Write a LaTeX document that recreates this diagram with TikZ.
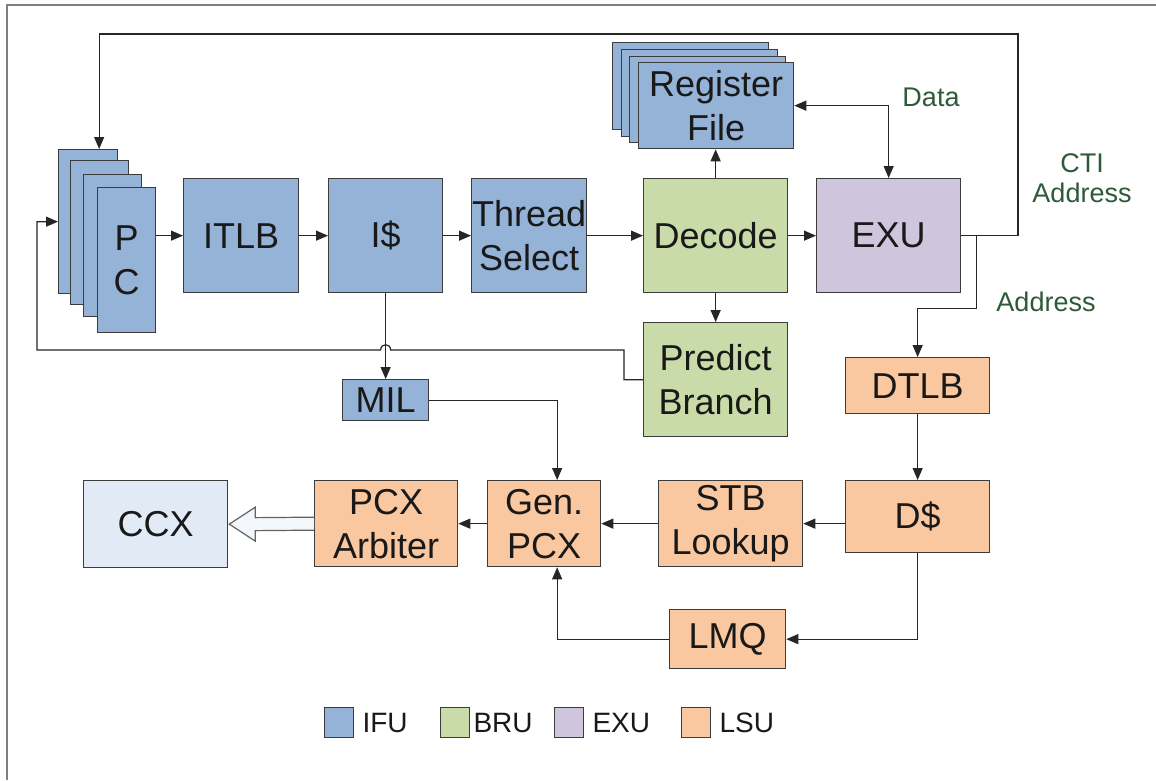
\documentclass[tikz,border=0pt]{standalone}
\usepackage{fontspec}
\setmainfont{Liberation Sans}
\usetikzlibrary{arrows.meta,calc}
\definecolor{ifu}{HTML}{95B3D7}
\definecolor{bru}{HTML}{C9DBA8}
\definecolor{exu}{HTML}{CFC6DD}
\definecolor{lsu}{HTML}{F9C8A0}
\definecolor{ccx}{HTML}{E2EAF6}
\definecolor{edge}{HTML}{3C3C3C}
\definecolor{lbl}{HTML}{2E5A3A}
\begin{document}
\begin{tikzpicture}[x=1pt,y=-1pt,
  blk/.style={draw=edge, line width=1.3pt, inner sep=0pt, align=center,
    anchor=north west, font=\fontsize{36}{44}\selectfont, text=black!90},
  ifub/.style={blk, fill=ifu},
  brub/.style={blk, fill=bru},
  exub/.style={blk, fill=exu},
  lsub/.style={blk, fill=lsu},
  sz/.style 2 args={minimum width=#1pt, minimum height=#2pt},
  conn/.style={draw=black!85, line width=1.2pt, -{Triangle[length=12pt,width=10pt]}},
  conn2/.style={conn, {Triangle[length=12pt,width=10pt]}-{Triangle[length=12pt,width=10pt]}},
  sig/.style={text=lbl, font=\fontsize{27}{30}\selectfont, align=center},
  key/.style={draw=edge, line width=1.3pt, minimum width=29pt, minimum height=30pt, inner sep=0pt, anchor=north west},
  keytxt/.style={font=\fontsize{28}{30}\selectfont, anchor=west, inner sep=0pt, text=black!90}
]
\useasboundingbox (0,0) rectangle (1156,780);
\fill[white] (0,0) rectangle (1156,780);
% frame
\draw[gray, line width=2pt] (7,780) -- (7,5) -- (1156,5);

% program counters (one per thread)
\node[ifub, sz={59}{144}] (pc1) at (58,149) {};
\node[ifub, sz={58}{144}] (pc2) at (70,160) {};
\node[ifub, sz={58}{142}] (pc3) at (83,174) {};
\node[ifub, sz={58}{145}] (pc4) at (97,187) {P\\C};

% fetch / decode row
\node[ifub, sz={115}{114}] (itlb) at (183,178) {ITLB};
\node[ifub, sz={114}{114}] (imem) at (328,178) {I\$};
\node[ifub, sz={115}{114}] (tsel) at (471,178) {Thread\\Select};
\node[brub, sz={144}{114}] (dec) at (643,178) {Decode};
\node[exub, sz={144}{114}] (exu) at (816,178) {EXU};

% register files (one per thread)
\node[ifub, sz={156}{87}] (rf1) at (612,42) {};
\node[ifub, sz={156}{87}] (rf2) at (621,49) {};
\node[ifub, sz={156}{86}] (rf3) at (629,56) {};
\node[ifub, sz={155}{86}] (rf4) at (638,62) {Register\\File};

% branch prediction and miss logic
\node[brub, sz={144}{114}] (pb) at (643,322) {Predict\\Branch};
\node[ifub, sz={86}{41}] (mil) at (342,379) {MIL};

% load/store path
\node[lsub, sz={144}{56}] (dtlb) at (845,357) {DTLB};
\node[lsub, sz={144}{72}] (dc) at (845,480) {D\$};
\node[lsub, sz={144}{86}] (stb) at (658,480) {STB\\Lookup};
\node[lsub, sz={113}{86}] (gen) at (487,480) {Gen.\\PCX};
\node[lsub, sz={143}{86}] (arb) at (314,480) {PCX\\Arbiter};
\node[lsub, sz={116}{59}] (lmq) at (669,609) {LMQ};
\node[blk, fill=ccx, sz={144}{87}] (ccx) at (83,480) {CCX};

% fetch pipeline
\draw[conn] (itlb.west -| pc4.east) -- (itlb.west);
\draw[conn] (itlb.east) -- (imem.west);
\draw[conn] (imem.east) -- (tsel.west);
\draw[conn] (tsel.east) -- (dec.west);
\draw[conn] (dec.east) -- (exu.west);
\draw[conn] (dec.north) -- (dec.north |- rf4.south);
\draw[conn] (dec.south) -- (pb.north);
\draw[conn2] (rf4.east) -| (exu.north);

% control transfer back to the PCs
\coordinate (ctop) at (1018,34);
\draw[conn] (exu.east) -| (ctop) -| ($(pc1.north)+(11,0)$);

% data address to the DTLB
\path (exu.east) ++(15,0) coordinate (abr);
\draw[conn] (abr) -- ++(0,73) -| (dtlb.north);

% predicted branch target, hopping over the I$ miss line
\coordinate (ylev) at (0,350);
\path (pb.west) ++(-19,0) coordinate (pbk);
\path (imem.south |- ylev) coordinate (hop);
\draw[conn] (pb.west) -- (pbk) -- (pbk |- ylev) -- ($(hop)+(5,0)$)
  .. controls ($(hop)+(5,-7)$) and ($(hop)+(-5,-7)$) .. ($(hop)+(-5,0)$)
  -- (37,350) |- (pc1.west);
\draw[conn] (imem.south) -- (mil.north);

% memory side
\coordinate (genin) at ($(gen.north)+(13,0)$);
\coordinate (genup) at ($(gen.south)+(13,0)$);
\draw[conn] (mil.east) -| (genin);
\draw[conn] (dtlb.south) -- (dc.north);
\draw[conn] (dc.west |- stb.east) -- (stb.east);
\draw[conn] (stb.west) -- (gen.east);
\draw[conn] (gen.west) -- (arb.west -| arb.east);
\draw[conn] (dc.south) |- (lmq.east);
\draw[conn] (lmq.west) -| (genup);

% wide arrow into the crossbar
\draw[draw=edge!80, fill=ccx!40, line width=1.2pt]
  ($(arb.west)+(0,-6.5)$) -- ($(ccx.east)+(27,-6.5)$) -- ($(ccx.east)+(27,-17)$)
  -- ($(ccx.east)+(1,0)$) -- ($(ccx.east)+(27,17)$) -- ($(ccx.east)+(27,6.5)$)
  -- ($(arb.west)+(0,6.5)$);

% signal labels
\node[sig] (ldata) at (931,97) {Data};
\node[sig] (lcti) at (1082,178) {CTI\\Address};
\node[sig] (laddr) at (1046,302) {Address};

% legend
\node[key, fill=ifu] (k1) at (324,707) {};
\node[keytxt] (t1) at ($(k1.east)+(8,0)$) {IFU};
\node[key, fill=bru] (k2) at (440,707) {};
\node[keytxt] (t2) at ($(k2.east)+(3,0)$) {BRU};
\node[key, fill=exu] (k3) at (554,707) {};
\node[keytxt] (t3) at ($(k3.east)+(8,0)$) {EXU};
\node[key, fill=lsu] (k4) at (681,707) {};
\node[keytxt] (t4) at ($(k4.east)+(8,0)$) {LSU};
\end{tikzpicture}
\end{document}
